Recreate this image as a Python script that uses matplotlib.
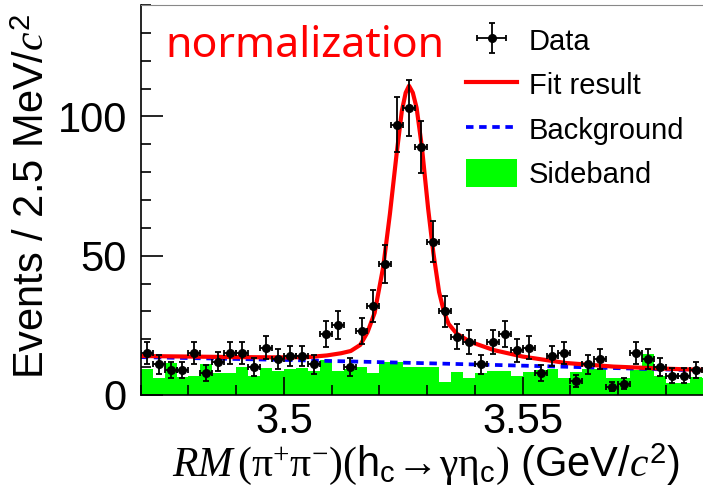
import numpy as np
import matplotlib
matplotlib.use('Agg')
import matplotlib.pyplot as plt
from matplotlib.ticker import MultipleLocator, FuncFormatter
from matplotlib.lines import Line2D
from matplotlib.patches import Patch

plt.rcParams['font.family'] = 'Liberation Sans'
plt.rcParams['mathtext.fontset'] = 'custom'
plt.rcParams['mathtext.rm'] = 'Liberation Serif'
plt.rcParams['mathtext.it'] = 'Liberation Serif:italic'
plt.rcParams['mathtext.sf'] = 'Liberation Sans'

# binning: 2.5 MeV bins starting at 3.47 GeV
bin_lo = 3.47
bin_w = 0.0025

counts = [15, 11, 9, 9, 15, 8, 12, 15, 15, 10,
          17, 13, 14, 14, 11, 22, 25, 10, 23, 32,
          47, 97, 103, 89, 55, 30, 21, 19, 11, 19,
          22, 16, 17, 8, 14, 15, 5, 11, 13, 3,
          4, 15, 13, 10, 7, 7, 9]

sideband = [9.5, 6.0, 11.5, 6.3, 7.0, 11.2, 8.0, 8.0, 10.2, 6.8,
            9.8, 8.6, 9.2, 9.8, 8.6, 12.5, 8.7, 9.5, 10.0, 8.0,
            11.8, 12.0, 10.2, 10.2, 10.2, 4.8, 8.4, 6.0, 7.8, 8.7,
            8.6, 7.0, 8.4, 9.1, 9.4, 6.2, 8.4, 9.4, 9.2, 6.0,
            6.0, 9.0, 14.8, 7.0, 4.2, 4.2, 6.3, 6.0]

# fit curve
fit_x = [3.4700, 3.4800, 3.4900, 3.5000, 3.5050, 3.5090, 3.5120, 3.5140,
         3.5160, 3.5175, 3.5190, 3.5208, 3.5222, 3.5236, 3.5247, 3.5255,
         3.5262, 3.5270, 3.5278, 3.5289, 3.5302, 3.5313, 3.5325, 3.5335,
         3.5345, 3.5362, 3.5390, 3.5440, 3.5500, 3.5590, 3.5690, 3.5790, 3.5900]
fit_y = [14.0, 13.8, 13.6, 13.5, 13.6, 14.2, 15.0, 15.8,
         18.0, 22.5, 29.5, 46.0, 65.0, 86.5, 102.0, 108.5,
         111.0, 108.5, 103.0, 89.0, 67.0, 51.0, 37.0, 30.0,
         25.5, 22.0, 19.1, 16.1, 13.8, 11.5, 10.2, 9.5, 8.9]

bkg_x = [3.47, 3.50, 3.53, 3.56, 3.59]
bkg_y = [13.6, 12.6, 11.4, 10.1, 8.7]

edges = bin_lo + bin_w * np.arange(len(sideband) + 1)
centers = bin_lo + bin_w * (np.arange(len(counts)) + 0.5)
errs = np.sqrt(counts)

fig = plt.figure(figsize=(7.03, 4.92), dpi=100)
ax = fig.add_axes([140.7/703, 97/492, 572.9/703, 390/492])

ax.stairs(sideband, edges, fill=True, color='#00ff00', lw=0)
ax.plot(bkg_x, bkg_y, color='#0000ff', ls=(0, (2.0, 1.5)), lw=2.7)
ax.plot(fit_x, fit_y, color='red', lw=3)
data = ax.errorbar(centers, counts, yerr=errs, xerr=bin_w/2, fmt='o', color='black',
                   ms=5.5, elinewidth=1.3, capsize=2, capthick=1.3)

ax.set_xlim(3.47, 3.59)
ax.set_ylim(0, 140)

ax.xaxis.set_major_locator(MultipleLocator(0.05))
ax.xaxis.set_minor_locator(MultipleLocator(0.01))
ax.yaxis.set_major_locator(MultipleLocator(50))
ax.yaxis.set_minor_locator(MultipleLocator(10))
ax.xaxis.set_major_formatter(FuncFormatter(lambda v, p: '%g' % round(v, 3)))
ax.tick_params(which='major', direction='in', length=13, width=1.2, labelsize=30)
ax.tick_params(which='minor', direction='in', length=7, width=1.2)
ax.tick_params(axis='x', which='major', pad=5)
ax.tick_params(axis='y', which='major', length=16, pad=10)
ax.tick_params(top=False, right=False)
ax.spines['top'].set_color('#888888')
ax.spines['left'].set_linewidth(1.2)
ax.spines['bottom'].set_linewidth(1.2)

fig.text(33/703, 1 - 196/492, r'Events / 2.5 MeV/$\mathit{c}^{\mathsf{2}}$',
         rotation=90, ha='center', va='center', fontsize=30)
fig.text(426/703, 1 - 464/492,
         r'$\mathit{RM}\,(\mathrm{\pi}^{+}\mathrm{\pi}^{-})(\mathsf{h}_{\mathsf{c}}\!\rightarrow\!\mathrm{\gamma\eta}_{\mathsf{c}})$ (GeV/$\mathit{c}^{\mathsf{2}}$)',
         ha='center', va='center', fontsize=30)

fig.text(165/703, 1 - 57/492, 'normalization', color='red', fontsize=30.8,
         family='Noto Sans', ha='left', va='baseline')

handles = [data,
           Line2D([], [], color='red', lw=3),
           Line2D([], [], color='#0000ff', ls=(0, (2.0, 1.5)), lw=2.7),
           Patch(facecolor='#00ff00', edgecolor='none')]
labels = ['Data', 'Fit result', 'Background', 'Sideband']
ax.legend(handles, labels, loc='upper left', bbox_to_anchor=(466/703, 1 - 26/492),
          bbox_transform=fig.transFigure, frameon=False, fontsize=21,
          handlelength=1.75, handleheight=1.1, handletextpad=0.4,
          labelspacing=0.5, borderpad=0, borderaxespad=0)

fig.savefig('out.png', dpi=100)
